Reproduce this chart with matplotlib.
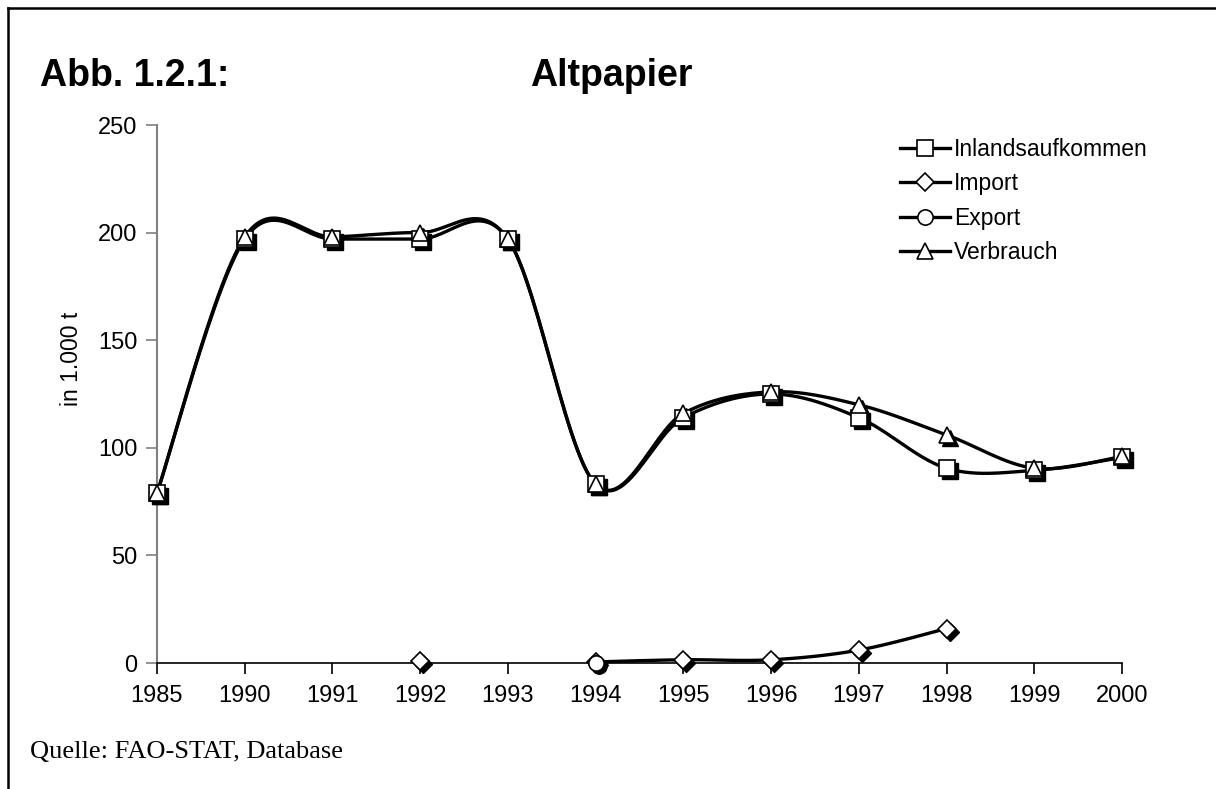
import numpy as np
import matplotlib
matplotlib.use("Agg")
import matplotlib.pyplot as plt
from matplotlib.lines import Line2D
import matplotlib.transforms as mtransforms

plt.rcParams['font.family'] = ['Liberation Sans', 'DejaVu Sans']

years = ["1985", "1990", "1991", "1992", "1993", "1994", "1995", "1996", "1997", "1998", "1999", "2000"]
nan = np.nan
inland = [79, 197, 197, 197, 197, 83, 114, 125, 114, 90.5, 89.5, 95.5]
imp = [nan, nan, nan, 1, nan, 0.5, 1.5, 1.5, 6, 16, nan, nan]
exp = [nan, nan, nan, nan, nan, 0, nan, nan, nan, nan, nan, nan]
verbrauch = [79, 198, 198, 200, 197, 83, 116, 126, 120, 106, 90.5, 96]

series = [
    ("Inlandsaufkommen", inland, "s", 11),
    ("Import", imp, "D", 9),
    ("Export", exp, "o", 11),
    ("Verbrauch", verbrauch, "^", 12),
]


def smooth(xs, ys, n=30):
    # Excel style smoothed line (catmull-rom as bezier), split at gaps
    xs = np.asarray(xs, float)
    ys = np.asarray(ys, float)
    outx, outy = [], []
    ok = ~np.isnan(ys)
    i = 0
    while i < len(ys):
        if not ok[i]:
            i += 1
            continue
        j = i
        while j + 1 < len(ys) and ok[j + 1]:
            j += 1
        px = xs[i:j + 1]
        py = ys[i:j + 1]
        if len(px) > 1:
            for k in range(len(px) - 1):
                k0 = max(k - 1, 0)
                k3 = min(k + 2, len(px) - 1)
                p0 = np.array([px[k0], py[k0]])
                p1 = np.array([px[k], py[k]])
                p2 = np.array([px[k + 1], py[k + 1]])
                p3 = np.array([px[k3], py[k3]])
                c1 = p1 + (p2 - p0) / 6
                c2 = p2 - (p3 - p1) / 6
                t = np.linspace(0, 1, n)[:, None]
                b = ((1 - t) ** 3) * p1 + 3 * ((1 - t) ** 2) * t * c1 + 3 * (1 - t) * t ** 2 * c2 + t ** 3 * p2
                outx.extend(b[:, 0])
                outy.extend(b[:, 1])
            outx.append(nan)
            outy.append(nan)
        i = j + 1
    return outx, outy


fig = plt.figure(figsize=(12.16, 7.89), dpi=100)
ax = fig.add_axes([157 / 1216, 1 - 663 / 789, 965 / 1216, 538 / 789])

x = np.arange(len(years))
shadow = mtransforms.offset_copy(ax.transData, fig=fig, x=3, y=-3, units='dots')

handles = []
for name, vals, m, ms in series:
    sx, sy = smooth(x, vals)
    ax.plot(x, vals, linestyle='none', marker=m, markersize=ms, color='black',
            transform=shadow, clip_on=False, zorder=3)
    ax.plot(sx, sy, color='black', lw=2.4, clip_on=False, zorder=3)
    ax.plot(x, vals, linestyle='none', marker=m, markersize=ms, markerfacecolor='white',
            markeredgecolor='black', markeredgewidth=1.2, clip_on=False, zorder=4)
    handles.append(Line2D([], [], color='black', lw=2.4, marker=m, markersize=ms,
                          markerfacecolor='white', markeredgecolor='black', markeredgewidth=1.2))

ax.set_xlim(0, len(years) - 1)
ax.set_ylim(0, 250)
ax.set_yticks([0, 50, 100, 150, 200, 250])
ax.set_xticks(x)
ax.set_xticklabels(years)
ax.tick_params(axis='x', labelsize=17, length=8, width=1.2, color='black', pad=8, direction='out')
ax.tick_params(axis='y', labelsize=17, length=8, width=1.2, color='#808080', pad=6, direction='out')
for s in ['top', 'right']:
    ax.spines[s].set_visible(False)
ax.spines['left'].set_color('#808080')
ax.spines['left'].set_linewidth(1.5)
ax.spines['bottom'].set_color('black')
ax.spines['bottom'].set_linewidth(1.2)
ax.set_ylabel("in 1.000 t", fontsize=16.5)
ax.yaxis.set_label_coords(-0.077, 0.565)

leg = ax.legend(handles, [s[0] for s in series], loc='upper left', bbox_to_anchor=(900 / 1216, 1 - 138 / 789),
                bbox_transform=fig.transFigure, frameon=False, fontsize=16.5, handlelength=2.2,
                handletextpad=0.15, labelspacing=0.5, borderaxespad=0, borderpad=0)

fig.text(40 / 1216, 1 - 76 / 789, "Abb. 1.2.1:", fontsize=27, fontweight='bold', va='center', ha='left')
fig.text(611 / 1216, 1 - 76 / 789, "Altpapier", fontsize=27, fontweight='bold', va='center', ha='center')
fig.text(30 / 1216, 1 - 752 / 789, "Quelle: FAO-STAT, Database", fontsize=19,
         family=['Liberation Serif', 'DejaVu Serif'], va='center', ha='left')

# frame of the chart area (only left and top visible)
fig.add_artist(Line2D([8 / 1216, 8 / 1216], [0, 1 - 8 / 789], color='black', lw=1.8, transform=fig.transFigure))
fig.add_artist(Line2D([8 / 1216, 1], [1 - 8 / 789, 1 - 8 / 789], color='black', lw=1.8, transform=fig.transFigure))

fig.savefig("out.png", dpi=100)
